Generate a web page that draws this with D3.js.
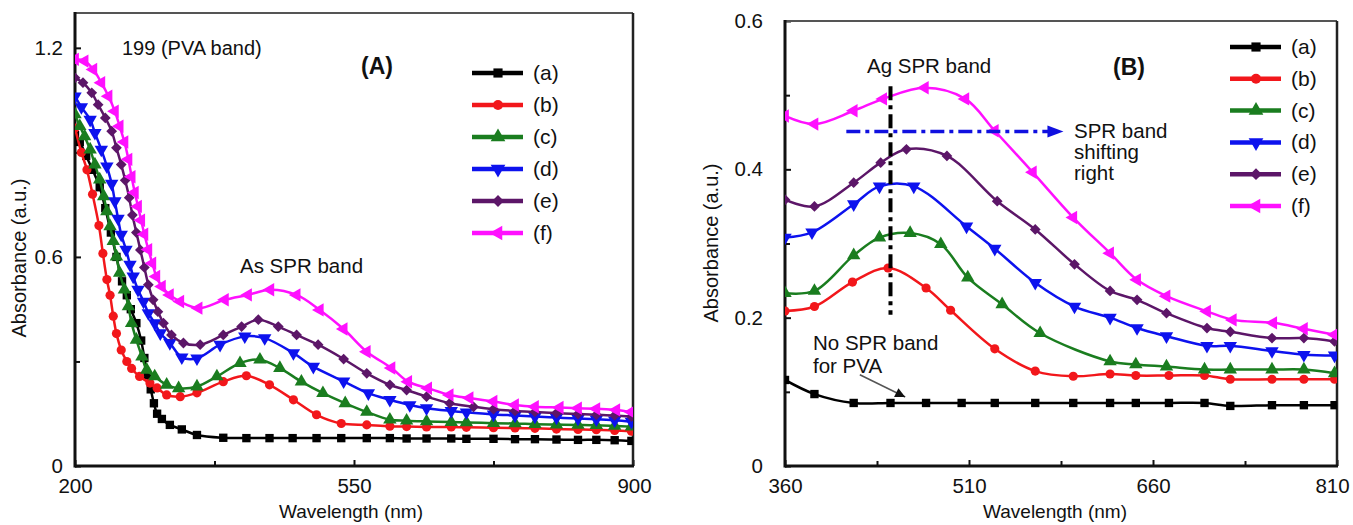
<!DOCTYPE html>
<html>
<head>
<meta charset="utf-8">
<script src="https://cdn.jsdelivr.net/npm/d3@7"></script>
<style>
body { margin: 0; background: #fff; }
svg text { font-family: "Liberation Sans", Arial, sans-serif; fill: #111; }
</style>
</head>
<body>
<svg id="chart" width="1353" height="525"></svg>
<script>
// ---- data (wavelength nm, absorbance a.u.) ----

// Panel A
const A_a = [[200,0.95],[206,0.93],[214,0.89],[222,0.85],[231,0.80],[238,0.74],[245,0.67],[252,0.60],[259,0.53],[265,0.49],[270,0.45],[277,0.41],[283,0.36],[287,0.31],[291,0.26],[295,0.22],[299,0.18],[303,0.15],[309,0.135],[319,0.118],[334,0.105],[353,0.089],[386,0.081],[415,0.08],[444,0.08],[473,0.08],[503,0.08],[534,0.08],[566,0.08],[595,0.08],[616,0.079],[641,0.079],[672,0.079],[691,0.078],[725,0.078],[752,0.077],[777,0.077],[804,0.076],[831,0.075],[854,0.075],[877,0.074],[898,0.072]];
const A_b = [[200,0.97],[208,0.90],[215,0.85],[222,0.78],[230,0.69],[235,0.61],[240,0.535],[244,0.49],[248,0.43],[252,0.38],[258,0.333],[265,0.30],[271,0.28],[281,0.257],[294,0.238],[303,0.224],[315,0.204],[332,0.199],[353,0.21],[386,0.242],[415,0.259],[444,0.233],[474,0.19],[503,0.147],[534,0.122],[566,0.118],[595,0.114],[616,0.113],[641,0.112],[672,0.112],[691,0.111],[725,0.11],[752,0.109],[777,0.108],[804,0.106],[831,0.105],[854,0.104],[877,0.102],[898,0.10]];
const A_c = [[200,1.009],[206,0.975],[212,0.946],[219,0.908],[225,0.865],[231,0.822],[236,0.774],[240,0.731],[244,0.688],[248,0.645],[252,0.601],[256,0.554],[262,0.506],[267,0.458],[271,0.41],[277,0.362],[284,0.314],[290,0.276],[300,0.257],[315,0.233],[330,0.223],[353,0.228],[378,0.257],[407,0.295],[432,0.305],[457,0.281],[484,0.242],[511,0.209],[539,0.18],[566,0.155],[595,0.133],[616,0.13],[641,0.128],[672,0.126],[691,0.125],[725,0.123],[752,0.122],[777,0.12],[804,0.119],[831,0.118],[854,0.117],[877,0.115],[898,0.113]];
const A_d = [[200,1.061],[208,1.03],[219,0.994],[225,0.956],[233,0.908],[240,0.86],[246,0.81],[250,0.76],[254,0.71],[258,0.664],[264,0.621],[269,0.578],[273,0.544],[279,0.506],[286,0.472],[292,0.439],[300,0.41],[307,0.381],[319,0.353],[334,0.312],[353,0.309],[382,0.348],[413,0.372],[438,0.367],[474,0.324],[499,0.285],[537,0.243],[568,0.209],[595,0.19],[620,0.175],[641,0.166],[672,0.158],[691,0.154],[725,0.148],[752,0.145],[777,0.142],[804,0.139],[831,0.136],[854,0.134],[877,0.131],[898,0.127]];
const A_e = [[200,1.114],[210,1.10],[221,1.071],[229,1.037],[238,0.999],[246,0.961],[252,0.913],[258,0.865],[263,0.82],[268,0.77],[272,0.72],[277,0.67],[282,0.62],[287,0.57],[292,0.52],[298,0.477],[304,0.443],[311,0.41],[321,0.376],[336,0.353],[357,0.348],[386,0.376],[409,0.40],[430,0.42],[455,0.40],[478,0.376],[505,0.348],[537,0.307],[566,0.266],[595,0.233],[616,0.218],[641,0.199],[670,0.18],[700,0.17],[725,0.163],[752,0.158],[777,0.155],[804,0.152],[831,0.149],[854,0.147],[877,0.145],[898,0.142]];
const A_f = [[200,1.167],[212,1.162],[223,1.138],[233,1.10],[242,1.061],[250,1.018],[256,0.975],[262,0.93],[267,0.88],[271,0.83],[275,0.785],[279,0.745],[283,0.705],[287,0.665],[292,0.621],[297,0.582],[302,0.544],[309,0.515],[319,0.491],[332,0.472],[355,0.453],[388,0.477],[417,0.491],[445,0.506],[478,0.491],[507,0.448],[537,0.393],[566,0.328],[597,0.281],[618,0.242],[643,0.223],[670,0.204],[695,0.195],[725,0.185],[752,0.175],[777,0.170],[808,0.168],[831,0.166],[854,0.164],[879,0.161],[898,0.155]];

// Panel B
const B_a = [[360,0.116],[384,0.097],[416,0.085],[446,0.085],[475,0.085],[504,0.085],[531,0.085],[564,0.085],[595,0.085],[625,0.085],[646,0.085],[673,0.085],[702,0.085],[723,0.081],[757,0.082],[783,0.082],[808,0.082]];
const B_b = [[360,0.209],[384,0.215],[415,0.248],[444,0.267],[475,0.240],[495,0.210],[531,0.158],[564,0.128],[595,0.121],[625,0.124],[646,0.122],[673,0.122],[702,0.122],[723,0.117],[757,0.117],[783,0.117],[808,0.117]];
const B_c = [[360,0.233],[384,0.236],[416,0.284],[437,0.308],[462,0.314],[487,0.299],[509,0.254],[537,0.218],[568,0.179],[625,0.141],[646,0.137],[671,0.134],[702,0.13],[723,0.13],[757,0.13],[783,0.13],[808,0.125]];
const B_d = [[360,0.308],[382,0.315],[416,0.353],[437,0.377],[465,0.377],[508,0.323],[531,0.293],[564,0.247],[596,0.215],[625,0.20],[647,0.186],[671,0.175],[704,0.162],[723,0.162],[757,0.155],[783,0.15],[808,0.149]];
const B_e = [[360,0.359],[384,0.350],[416,0.382],[438,0.409],[459,0.427],[492,0.418],[533,0.357],[564,0.319],[596,0.272],[625,0.236],[647,0.224],[671,0.206],[704,0.186],[723,0.181],[757,0.1725],[783,0.1725],[808,0.168]];
const B_f = [[360,0.472],[384,0.461],[416,0.479],[440,0.495],[474,0.510],[507,0.495],[531,0.452],[562,0.396],[595,0.335],[625,0.287],[647,0.251],[671,0.229],[704,0.2085],[725,0.197],[758,0.193],[783,0.185],[808,0.177]];

const seriesLabels = ['(a)', '(b)', '(c)', '(d)', '(e)', '(f)'];

// ticks
const A_xMajor = [200, 550, 900];
const A_xMinor = [375, 725];
const A_yMajor = [0, 0.6, 1.2];
const A_yMinor = [0.3, 0.9];
const B_xMajor = [360, 510, 660, 810];
const B_xMinor = [435, 585, 735];
const B_yMajor = [0, 0.2, 0.4, 0.6];
const B_yMinor = [0.1, 0.3, 0.5];

// annotations (data coords)
const B_agLine = { w: 446, v0: 0.204, v1: 0.512 };
const B_shiftArrow = { w0: 410, w1: 587, v: 0.451 };
const B_pvaArrow = { w0: 421, v0: 0.123, w1: 458, v1: 0.093 };

// styles
const colors = ['#000000', '#f2171b', '#1a7d1f', '#0d12ee', '#5c1668', '#ff10ff'];
const shapes = [
    { type: d3.symbolSquare, size: 70, rot: 0 },
    { type: d3.symbolCircle, size: 66, rot: 0 },
    { type: d3.symbolTriangle, size: 78, rot: 0 },
    { type: d3.symbolTriangle, size: 78, rot: 180 },
    { type: d3.symbolSquare, size: 58, rot: 45 },
    { type: d3.symbolTriangle, size: 78, rot: -90 }
];

const svg = d3.select('#chart');

function drawPanel(cfg) {
    const x = d3.scaleLinear().domain(cfg.xDomain).range(cfg.xRange);
    const y = d3.scaleLinear().domain(cfg.yDomain).range(cfg.yRange);
    const g = svg.append('g');
    const [L, R] = cfg.xRange;
    const [B, T] = cfg.yRange;

    // clip
    const clipId = 'clip' + cfg.name;
    svg.append('clipPath').attr('id', clipId)
        .append('rect').attr('x', L).attr('y', T).attr('width', R - L).attr('height', B - T);

    // axes
    const xAx = g.append('g').attr('transform', `translate(0,${B})`)
        .call(d3.axisBottom(x).tickValues(cfg.xMajor).tickSizeInner(-6).tickSizeOuter(0).tickPadding(12).tickFormat(d3.format('d')));
    g.append('g').attr('transform', `translate(0,${B})`)
        .call(d3.axisBottom(x).tickValues(cfg.xMinor).tickSizeInner(-5).tickSizeOuter(0).tickFormat(''));
    g.append('g').attr('transform', `translate(${L},0)`)
        .call(d3.axisLeft(y).tickValues(cfg.yMajor).tickSizeInner(-6).tickSizeOuter(0).tickPadding(cfg.yPad).tickFormat(d => d === 0 ? '0' : d3.format('.1f')(d)));
    g.append('g').attr('transform', `translate(${L},0)`)
        .call(d3.axisLeft(y).tickValues(cfg.yMinor).tickSizeInner(-5).tickSizeOuter(0).tickFormat(''));
    g.selectAll('.domain').remove();
    g.selectAll('.tick line').attr('stroke', '#111').attr('stroke-width', 2);
    g.selectAll('.tick text').style('font-size', '20.5px').attr('fill', '#111');
    // keep the last x label inside the page
    xAx.selectAll('.tick text').attr('dx', (d, i, n) => i === n.length - 1 ? cfg.lastDx : 0);

    // frame
    g.append('line').attr('x1', L).attr('x2', R).attr('y1', T).attr('y2', T).attr('stroke', '#555').attr('stroke-width', 2);
    g.append('line').attr('x1', R).attr('x2', R).attr('y1', T).attr('y2', B).attr('stroke', '#222').attr('stroke-width', 2.5);
    g.append('line').attr('x1', L).attr('x2', L).attr('y1', T - 1).attr('y2', B + 1.5).attr('stroke', '#111').attr('stroke-width', 3);
    g.append('line').attr('x1', L).attr('x2', R + 1).attr('y1', B).attr('y2', B).attr('stroke', '#111').attr('stroke-width', 3);

    // axis titles
    g.append('text').attr('x', cfg.xTitleX).attr('y', 518).attr('text-anchor', 'middle')
        .style('font-size', '19px').text('Wavelength (nm)');
    g.append('text').attr('transform', `translate(${cfg.yTitleX},${cfg.yTitleY}) rotate(-90)`)
        .attr('text-anchor', 'middle').style('font-size', '20px').text('Absorbance (a.u.)');

    // series
    const line = d3.line().x(d => x(d[0])).y(d => y(d[1])).curve(d3.curveCatmullRom.alpha(0.5));
    const plot = g.append('g').attr('clip-path', `url(#${clipId})`);
    cfg.series.forEach((data, i) => {
        plot.append('path').datum(data)
            .attr('fill', 'none').attr('stroke', colors[i]).attr('stroke-width', 2.5)
            .attr('d', line);
        const sym = d3.symbol().type(shapes[i].type).size(shapes[i].size);
        plot.selectAll('.m' + i).data(data).enter().append('path')
            .attr('class', 'm' + i)
            .attr('d', sym)
            .attr('fill', colors[i])
            .attr('transform', d => `translate(${x(d[0])},${y(d[1])}) rotate(${shapes[i].rot})`);
    });

    // legend
    seriesLabels.forEach((lab, i) => {
        const ly = cfg.legY + i * cfg.legStep;
        g.append('line').attr('x1', cfg.legX).attr('x2', cfg.legX + 51).attr('y1', ly).attr('y2', ly)
            .attr('stroke', colors[i]).attr('stroke-width', 4.5);
        g.append('path').attr('d', d3.symbol().type(shapes[i].type).size(shapes[i].size * 1.2))
            .attr('fill', colors[i])
            .attr('transform', `translate(${cfg.legX + 26},${ly}) rotate(${shapes[i].rot})`);
        g.append('text').attr('x', cfg.legX + 61).attr('y', ly + 7).style('font-size', '21px').text(lab);
    });

    return { g, x, y };
}

// Panel A
const pA = drawPanel({
    name: 'A',
    xDomain: [200, 900], xRange: [75, 633],
    yDomain: [0, 1.3], yRange: [466, 13],
    xMajor: A_xMajor, xMinor: A_xMinor, yMajor: A_yMajor, yMinor: A_yMinor,
    yPad: 12, lastDx: 1,
    xTitleX: 351, yTitleX: 26, yTitleY: 258,
    series: [A_a, A_b, A_c, A_d, A_e, A_f],
    legX: 472, legY: 73, legStep: 32
});
pA.g.append('text').attr('x', 122).attr('y', 55).style('font-size', '20px').text('199 (PVA band)');
pA.g.append('text').attr('x', 377).attr('y', 74).attr('text-anchor', 'middle')
    .style('font-size', '23px').style('font-weight', 'bold').text('(A)');
pA.g.append('text').attr('x', 240).attr('y', 273).style('font-size', '20.5px').text('As SPR band');

// Panel B
const pB = drawPanel({
    name: 'B',
    xDomain: [360, 810], xRange: [785, 1337],
    yDomain: [0, 0.6], yRange: [466, 21],
    xMajor: B_xMajor, xMinor: B_xMinor, yMajor: B_yMajor, yMinor: B_yMinor,
    yPad: 22, lastDx: -5,
    xTitleX: 1055, yTitleX: 718, yTitleY: 243,
    series: [B_a, B_b, B_c, B_d, B_e, B_f],
    legX: 1230, legY: 47, legStep: 31.8
});
const gB = pB.g, xB = pB.x, yB = pB.y;

// Ag SPR band dash-dot line
gB.append('line')
    .attr('x1', xB(B_agLine.w)).attr('x2', xB(B_agLine.w))
    .attr('y1', yB(B_agLine.v1)).attr('y2', yB(B_agLine.v0))
    .attr('stroke', '#000').attr('stroke-width', 4).attr('stroke-dasharray', '14,5,4,5');
gB.append('text').attr('x', 867).attr('y', 73).style('font-size', '20.5px').text('Ag SPR band');
gB.append('text').attr('x', 1129).attr('y', 75).attr('text-anchor', 'middle')
    .style('font-size', '23px').style('font-weight', 'bold').text('(B)');

// shifting arrow
const ax0 = xB(B_shiftArrow.w0), ax1 = xB(B_shiftArrow.w1), ay = yB(B_shiftArrow.v);
gB.append('line').attr('x1', ax0).attr('x2', ax1 - 14).attr('y1', ay).attr('y2', ay)
    .attr('stroke', '#1010e0').attr('stroke-width', 3.5).attr('stroke-dasharray', '14,5,4,5');
gB.append('path')
    .attr('d', `M${ax1},${ay} L${ax1 - 16},${ay - 6} L${ax1 - 16},${ay + 6} Z`)
    .attr('fill', '#1010e0');
['SPR band', 'shifting', 'right'].forEach((t, i) => {
    gB.append('text').attr('x', 1074).attr('y', 138 + i * 21).style('font-size', '20.5px').text(t);
});

// PVA note
gB.append('text').attr('x', 813).attr('y', 350).style('font-size', '20.5px').text('No SPR band');
gB.append('text').attr('x', 813).attr('y', 373).style('font-size', '20.5px').text('for PVA');
const px0 = xB(B_pvaArrow.w0), py0 = yB(B_pvaArrow.v0), px1 = xB(B_pvaArrow.w1), py1 = yB(B_pvaArrow.v1);
gB.append('line').attr('x1', px0).attr('y1', py0).attr('x2', px1).attr('y2', py1)
    .attr('stroke', '#555').attr('stroke-width', 1.5);
const ang = Math.atan2(py1 - py0, px1 - px0) * 180 / Math.PI;
gB.append('path').attr('d', 'M0,0 L-10,-5 L-10,5 Z').attr('fill', '#111')
    .attr('transform', `translate(${px1},${py1}) rotate(${ang})`);
</script>
</body>
</html>
